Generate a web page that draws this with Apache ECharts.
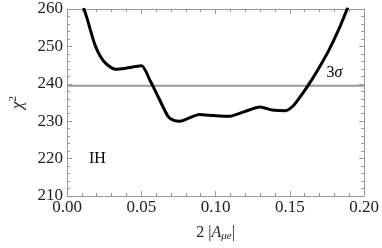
<!DOCTYPE html>
<html><head><meta charset="utf-8">
<script src="https://cdn.jsdelivr.net/npm/echarts@6/dist/echarts.min.js"></script>
<style>html,body{margin:0;padding:0;background:#fff}#c{width:382px;height:248px}</style>
</head><body><div id="c"></div>
<script>
const xValues = [0.0112,0.0135,0.0160,0.0190,0.0225,0.0265,0.0327,0.0400,0.0460,0.0502,0.0560,0.0620,0.0680,0.0720,0.0760,0.0820,0.0890,0.0990,0.1090,0.1190,0.1300,0.1380,0.1470,0.1520,0.1566,0.1632,0.1700,0.1763,0.1830,0.1890];
const chi2Values = [260.3,257.5,254.0,250.2,247.3,245.3,243.9,244.2,244.6,244.8,240.8,236.0,231.3,230.2,230.0,230.8,231.8,231.5,231.3,232.5,233.8,233.0,232.8,234.0,236.3,240.1,244.5,249.0,254.6,260.4];
const sigmaLevel = 239.5;
const xTicks = [0, 0.2, 0.05];
const yTicks = [210, 260, 10];
const notes = [{parts:[['n','3'],['i','σ']], x:0.1800, y:242.9}, {parts:[['n','IH']], x:0.0205, y:220.0}];

const font = 'Liberation Serif';
const gray = '#999';
function axisBase(isX, pos, showLabel, t){
  return {
    type:'value', position:pos, min:t[0], max:t[1], interval:t[2],
    axisLine:{show:true, onZero:false, lineStyle:{color:gray, width:1}},
    axisTick:{show:true, inside:true, length:5, lineStyle:{color:gray}},
    minorTick:{show:true, splitNumber:5, length:3, lineStyle:{color:gray}},
    splitLine:{show:false},
    axisLabel:{show:showLabel, color:'#222', fontFamily:font, fontSize:17, margin:isX?3:4,
      formatter: v => isX ? v.toFixed(2) : String(v)}
  };
}
const chart = echarts.init(document.getElementById('c'), null, {renderer:'canvas'});
const xb = axisBase(true,'bottom',true,xTicks);
xb.name = '{n|2 |}{a|A}{s|μe}{n||}';
xb.nameLocation = 'middle'; xb.nameGap = 27;
xb.nameTextStyle = {rich:{
  n:{fontFamily:font, fontSize:16, color:'#222'},
  a:{fontFamily:font, fontSize:16, fontStyle:'italic', color:'#222'},
  s:{fontFamily:font, fontSize:11, fontStyle:'italic', color:'#222', verticalAlign:'bottom', padding:[8,0,0,0]}
}};
const yl = axisBase(false,'left',true,yTicks);
yl.name = '{c|χ}{p|2}';
yl.nameLocation = 'middle'; yl.nameGap = 40; yl.nameRotate = 90;
yl.nameTextStyle = {rich:{
  c:{fontFamily:font, fontSize:17, fontStyle:'italic', color:'#222'},
  p:{fontFamily:font, fontSize:11, color:'#222', verticalAlign:'top', padding:[0,0,8,0]}
}};
chart.setOption({
  animation:false,
  grid:{left:62, right:16, top:9, bottom:52},
  xAxis:[xb, axisBase(true,'top',false,xTicks)],
  yAxis:[yl, axisBase(false,'right',false,yTicks)],
  series:[
    {type:'line', data:[[xTicks[0],sigmaLevel],[xTicks[1],sigmaLevel]], symbol:'none',
     lineStyle:{color:'#999', width:2}, z:1},
    {type:'line', data:xValues.map((x,i)=>[x,chi2Values[i]]), symbol:'none', smooth:0.25, clip:true,
     lineStyle:{color:'#000', width:3, join:'round'}, z:3}
  ]
});
const rich = {n:{fontFamily:font, fontSize:16, color:'#222'}, i:{fontFamily:font, fontSize:16, fontStyle:'italic', color:'#222'}};
chart.setOption({graphic: notes.map(n=>{
  const p = chart.convertToPixel({xAxisIndex:0, yAxisIndex:0}, [n.x, n.y]);
  return {type:'text', x:p[0], y:p[1], z:10, style:{text:n.parts.map(q=>'{'+q[0]+'|'+q[1]+'}').join(''), rich:rich, align:'center', verticalAlign:'middle'}};
})});
</script></body></html>
